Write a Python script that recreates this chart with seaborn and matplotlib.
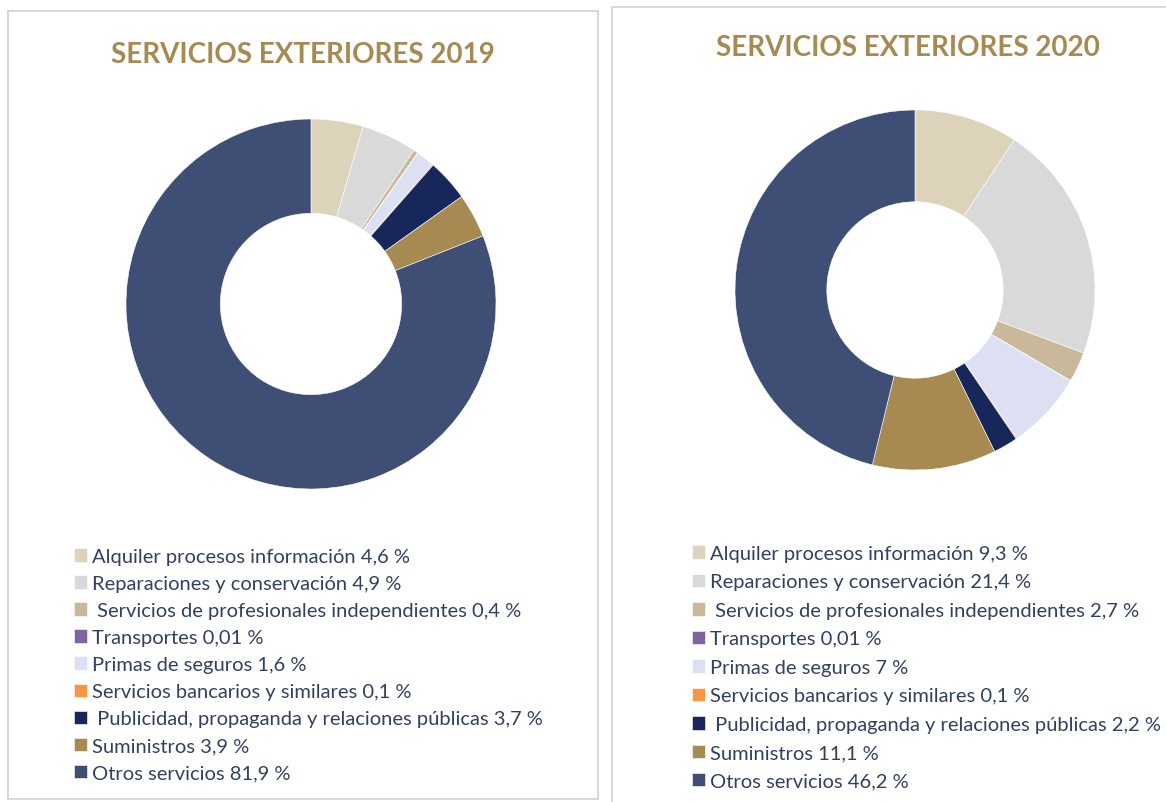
import matplotlib.pyplot as plt
import seaborn as sns
from matplotlib.patches import Rectangle

categorias = ["Alquiler procesos información", "Reparaciones y conservación",
              " Servicios de profesionales independientes", "Transportes",
              "Primas de seguros", "Servicios bancarios y similares",
              " Publicidad, propaganda y relaciones públicas", "Suministros",
              "Otros servicios"]
valores_2019 = [4.6, 4.9, 0.4, 0.01, 1.6, 0.1, 3.7, 3.9, 81.9]
textos_2019 = ["4,6", "4,9", "0,4", "0,01", "1,6", "0,1", "3,7", "3,9", "81,9"]
valores_2020 = [9.3, 21.4, 2.7, 0.01, 7, 0.1, 2.2, 11.1, 46.2]
textos_2020 = ["9,3", "21,4", "2,7", "0,01", "7", "0,1", "2,2", "11,1", "46,2"]
colores = ["#DDD3BB", "#D9D9D9", "#C9B99A", "#8064A2", "#DCE0F2",
           "#F79646", "#17275A", "#A68A52", "#3F4E74"]

W, H = 1166, 803
sns.set_theme(style="white")
plt.rcParams['font.family'] = ['Lato', 'DejaVu Sans']

fig = plt.figure(figsize=(W / 100, H / 100), dpi=100)
fig.patch.set_facecolor("white")

def px(x0, y0, x1, y1):
    # pixel box (top-left origin) -> figure fraction
    return [x0 / W, 1 - y1 / H, (x1 - x0) / W, (y1 - y0) / H]

# panel borders
for (x0, y0, x1, y1) in [(8, 12, 598, 800), (612, 8, 1170, 808)]:
    b = px(x0, y0, x1, y1)
    fig.patches.append(Rectangle((b[0], b[1]), b[2], b[3], transform=fig.transFigure,
                                 fill=False, edgecolor="#D4D0C8", linewidth=1.2))

def donut(cx, cy, r, valores, textos, titulo, tx, ty, leg_x, leg_y, spacing):
    ax = fig.add_axes(px(cx - r, cy - r, cx + r, cy + r))
    wedges, _ = ax.pie(valores, colors=colores, startangle=90, counterclock=False,
                       radius=1, wedgeprops=dict(width=0.51, edgecolor="white", linewidth=0.4))
    ax.set_xlim(-1, 1)
    ax.set_ylim(-1, 1)
    ax.set_aspect("equal")
    ax.axis("off")
    fig.text(tx / W, 1 - ty / H, titulo, ha="center", va="center", fontsize=20,
             fontweight="bold", color="#A68A52")
    etiquetas = [f"{c} {t} %" for c, t in zip(categorias, textos)]
    fig.legend(wedges, etiquetas, loc="upper left",
               bbox_to_anchor=(leg_x / W, 1 - leg_y / H), frameon=False,
               fontsize=14.5, labelcolor="#33405F", handlelength=0.65, handleheight=0.65,
               handletextpad=0.25, labelspacing=spacing, borderaxespad=0, borderpad=0)

donut(311, 305, 185, valores_2019, textos_2019, "SERVICIOS EXTERIORES 2019",
      303, 55, 74, 549, 0.5)
donut(915, 291, 180, valores_2020, textos_2020, "SERVICIOS EXTERIORES 2020",
      908, 48, 692, 546, 0.57)

plt.savefig("out.png", dpi=100)
